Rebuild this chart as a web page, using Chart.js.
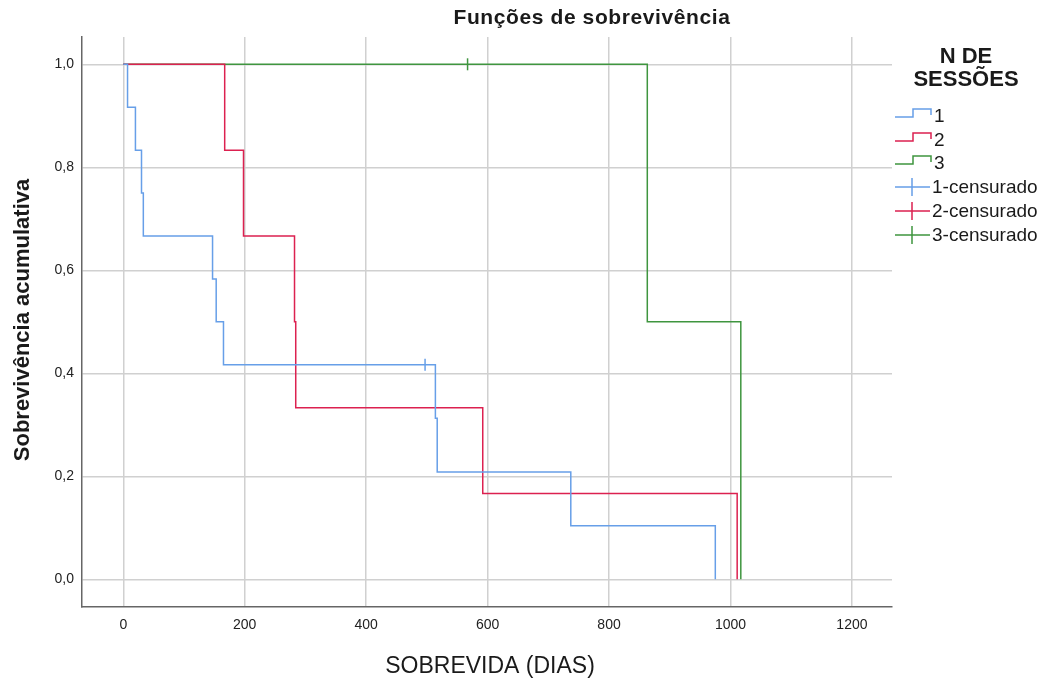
<!DOCTYPE html>
<html>
<head>
<meta charset="utf-8">
<script src="https://cdn.jsdelivr.net/npm/chart.js@4"></script>
<style>
  html, body { margin: 0; padding: 0; background: #fff; }
  #wrap { width: 1039px; height: 681px; position: relative; }
</style>
</head>
<body>
<div id="wrap"><canvas id="kmChart"></canvas></div>
<script>
// Kaplan-Meier curves: event times (days) and cumulative survival
const times1 = [0, 7, 20, 30, 33, 147, 153, 165, 514, 517, 737, 975];
const surv1  = [1, 0.9167, 0.8333, 0.75, 0.6667, 0.5833, 0.5, 0.4167, 0.3125, 0.2083, 0.1042, 0];
const times2 = [0, 167, 198, 282, 284, 592, 1011];
const surv2  = [1, 0.8333, 0.6667, 0.5, 0.3333, 0.1667, 0];
const times3 = [0, 863, 1017];
const surv3  = [1, 0.5, 0];

// censored observations
const cens1Times = [497];
const cens1Surv  = [0.4167];
const cens2Times = [];
const cens2Surv  = [];
const cens3Times = [567];
const cens3Surv  = [1];

const xTicks = [0, 200, 400, 600, 800, 1000, 1200];
const yTicks = [0, 0.2, 0.4, 0.6, 0.8, 1.0];

const groupLabels = ['1', '2', '3'];
const censLabels = ['1-censurado', '2-censurado', '3-censurado'];
const colors = ['#679fe8', '#dc2150', '#3f953f'];

const toPts = (xs, ys) => xs.map((x, i) => ({ x: x, y: ys[i] }));

const curves = [toPts(times1, surv1), toPts(times2, surv2), toPts(times3, surv3)];
const censored = [toPts(cens1Times, cens1Surv), toPts(cens2Times, cens2Surv), toPts(cens3Times, cens3Surv)];

const datasets = [];
curves.forEach((pts, i) => {
  datasets.push({
    label: groupLabels[i],
    data: pts,
    borderColor: colors[i],
    borderWidth: 1.5,
    stepped: 'before',   // horizontal first, then drop
    pointRadius: 0,
    fill: false
  });
});
censored.forEach((pts, i) => {
  datasets.push({
    label: censLabels[i],
    data: pts,
    borderColor: colors[i],
    backgroundColor: colors[i],
    showLine: false,
    pointStyle: 'line',
    rotation: 90,
    pointRadius: 6,
    pointBorderWidth: 1.5
  });
});

const FONT = '"Liberation Sans", Arial, sans-serif';

// titles and the SPSS-like legend on the right
const decorations = {
  id: 'decorations',
  afterDraw(chart) {
    const ctx = chart.ctx;
    ctx.save();
    ctx.fillStyle = '#1a1a1a';
    ctx.textBaseline = 'middle';
    ctx.textAlign = 'center';

    ctx.font = 'bold 21px ' + FONT;
    ctx.letterSpacing = '0.6px';
    ctx.fillText('Funções de sobrevivência', 592, 18);
    ctx.letterSpacing = '0px';

    ctx.font = '23px ' + FONT;
    ctx.fillText('SOBREVIDA (DIAS)', 490, 667);

    ctx.save();
    ctx.translate(23, 320);
    ctx.rotate(-Math.PI / 2);
    ctx.font = 'bold 22px ' + FONT;
    ctx.fillText('Sobrevivência acumulativa', 0, 0);
    ctx.restore();

    // legend
    ctx.font = 'bold 22px ' + FONT;
    ctx.fillText('N DE', 966, 57);
    ctx.fillText('SESSÕES', 966, 80);

    const rowY = [116, 140, 163, 187, 211, 235];
    ctx.font = '19px ' + FONT;
    ctx.textAlign = 'left';
    ctx.lineWidth = 1.5;
    for (let i = 0; i < 3; i++) {
      const y = rowY[i];
      ctx.strokeStyle = colors[i];
      ctx.beginPath();
      ctx.moveTo(895, y + 1);
      ctx.lineTo(913, y + 1);
      ctx.lineTo(913, y - 7);
      ctx.lineTo(931, y - 7);
      ctx.lineTo(931, y - 1);
      ctx.stroke();
      ctx.fillText(groupLabels[i], 934, y + 1);
    }
    for (let i = 0; i < 3; i++) {
      const y = rowY[i + 3];
      ctx.strokeStyle = colors[i];
      ctx.beginPath();
      ctx.moveTo(895, y);
      ctx.lineTo(930, y);
      ctx.moveTo(912, y - 9);
      ctx.lineTo(912, y + 9);
      ctx.stroke();
      ctx.fillText(censLabels[i], 932, y + 1);
    }
    ctx.restore();
  }
};

new Chart(document.getElementById('kmChart').getContext('2d'), {
  type: 'line',
  data: { datasets: datasets },
  options: {
    responsive: true,
    maintainAspectRatio: false,
    animation: false,
    layout: { padding: { left: 0, right: 147, top: 37, bottom: 0 } },
    plugins: {
      legend: { display: false },
      tooltip: { enabled: false }
    },
    scales: {
      x: {
        type: 'linear',
        min: -68,
        max: 1266,
        afterBuildTicks: (s) => { s.ticks = xTicks.map(v => ({ value: v })); },
        afterFit: (s) => { s.height = 74; },
        grid: { color: '#d0d0d0', lineWidth: 1.5, drawTicks: false },
        border: { color: '#666', width: 1.5 },
        ticks: {
          color: '#222',
          font: { family: FONT, size: 14 },
          padding: 10,
          callback: (v) => String(v)
        }
      },
      y: {
        min: -0.0538,
        max: 1.053,
        afterBuildTicks: (s) => { s.ticks = yTicks.map(v => ({ value: v })); },
        afterFit: (s) => { s.width = 82; },
        grid: { color: '#d0d0d0', lineWidth: 1.5, drawTicks: false },
        border: { color: '#666', width: 1.5 },
        ticks: {
          color: '#222',
          font: { family: FONT, size: 14 },
          padding: 8,
          callback: (v) => v.toFixed(1).replace('.', ',')
        }
      }
    }
  },
  plugins: [decorations]
});
</script>
</body>
</html>
